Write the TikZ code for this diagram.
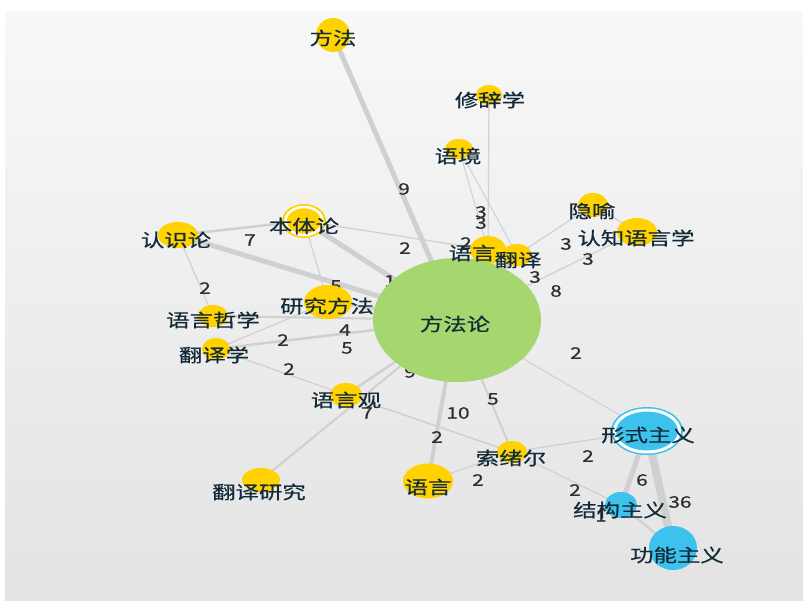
\documentclass[tikz,border=0pt]{standalone}
\usepackage{fontspec}
\newfontfamily\cjk[FakeStretch=1.3,FakeBold=0.6]{Noto Sans CJK SC}
\usetikzlibrary{shapes.geometric}
\pgfdeclarelayer{back}
\pgfdeclarelayer{edges}
\pgfsetlayers{back,edges,main}
\definecolor{yel}{HTML}{FFD200}
\definecolor{blu}{HTML}{3DC2EE}
\definecolor{grn}{HTML}{A5D66F}
\definecolor{txt}{HTML}{132B38}
\definecolor{numc}{HTML}{2E2E2E}
\definecolor{edg}{HTML}{D0D0D0}
\definecolor{bgtop}{HTML}{F8F8F8}
\definecolor{bgbot}{HTML}{E3E3E3}
\tikzset{
  dot/.style={ellipse, inner sep=0pt, draw=none},
  ydot/.style={dot, fill=yel},
  bdot/.style={dot, fill=blu},
  lbl/.style={font=\cjk\fontsize{18}{18}\selectfont, text=txt, inner sep=0pt},
  num/.style={font=\cjk\fontsize{16}{16}\selectfont, text=numc, inner sep=0pt},
  link/.style={draw=edg, line cap=round},
  ring/.style={ellipse, draw=white, line width=3pt, inner sep=0pt, fill=none}
}
\begin{document}
\begin{tikzpicture}[x=1pt,y=-1pt]
\useasboundingbox (0,0) rectangle (803,601);
\begin{pgfonlayer}{back}
\fill[white] (0,0) rectangle (803,601);
\shade[top color=bgtop, bottom color=bgbot] (5,12) rectangle (803,601);
\end{pgfonlayer}
% nodes
\node[ydot, minimum width=34pt, minimum height=34pt] (fa) at (333,35) {};
\node[ydot, minimum width=26pt, minimum height=20pt] (xc) at (489,95) {};
\node[ydot, minimum width=28pt, minimum height=20pt] (yj) at (459,149) {};
\node[ydot, minimum width=30pt, minimum height=24pt] (yy) at (593,205) {};
\node[ydot, minimum width=40pt, minimum height=28pt] (rz) at (637,232) {};
\node[ydot, minimum width=36pt, minimum height=28pt] (yu) at (488,250) {};
\node[ydot, minimum width=30pt, minimum height=22pt] (fy) at (517,255) {};
\node[ydot, minimum width=44pt, minimum height=34pt] (bt) at (304,221) {};
\node[ring, minimum width=37pt, minimum height=28pt, line width=2.5pt] (btr) at (304,221) {};
\node[ydot, minimum width=40pt, minimum height=26pt] (rs) at (178,235) {};
\node[ydot, minimum width=48pt, minimum height=34pt] (yf) at (328,302) {};
\node[ydot, minimum width=30pt, minimum height=22pt] (zx) at (213,316) {};
\node[ydot, minimum width=28pt, minimum height=22pt] (fx) at (216,349) {};
\node[ydot, minimum width=32pt, minimum height=24pt] (yg) at (346,395) {};
\node[ydot, minimum width=50pt, minimum height=35pt] (yb) at (428,481) {};
\node[ydot, minimum width=30pt, minimum height=22pt] (sx) at (512,452) {};
\node[ydot, minimum width=38pt, minimum height=24pt] (fyj) at (261,480) {};
\node[bdot, minimum width=72pt, minimum height=48pt] (xs) at (647,431) {};
\node[ring, minimum width=65pt, minimum height=42pt] (xsr) at (647,431) {};
\node[bdot, minimum width=32pt, minimum height=26pt] (jg) at (621,505) {};
\node[bdot, minimum width=48pt, minimum height=44pt] (gn) at (673,548) {};
\node[dot, fill=grn, minimum width=168pt, minimum height=124pt] (ff) at (457,320) {};
% labels
\node[lbl] (tfa) at (333,38) {方法};
\node[lbl] (txc) at (490,100) {修辞学};
\node[lbl] (tyj) at (458,156) {语境};
\node[lbl] (tyy) at (592,211) {隐喻};
\node[lbl] (trz) at (636,238) {认知语言学};
\node[lbl] (tyu) at (472,253) {语言};
\node[lbl] (tfy) at (518,260) {翻译};
\node[lbl] (tbt) at (304,226) {本体论};
\node[lbl] (trs) at (176,240) {认识论};
\node[lbl] (tyf) at (327,306) {研究方法};
\node[lbl] (tzx) at (213,320) {语言哲学};
\node[lbl] (tfx) at (214,355) {翻译学};
\node[lbl] (tyg) at (346,400) {语言观};
\node[lbl] (tyb) at (428,487) {语言};
\node[lbl] (tsx) at (511,458) {索绪尔};
\node[lbl] (tfyj) at (259,492) {翻译研究};
\node[lbl] (txs) at (648,435) {形式主义};
\node[lbl] (tjg) at (620,510) {结构主义};
\node[lbl] (tgn) at (677,555) {功能主义};
\node[lbl] (tff) at (455,324) {方法论};
% edges
\begin{pgfonlayer}{edges}
\draw[link, line width=5pt] (fa.center) -- (ff.center);
\draw[link, line width=1.2pt] (xc.center) -- (yu.center);
\draw[link, line width=1pt] (yj.center) -- (yu.center);
\draw[link, line width=1pt] (yj.center) -- (fy.center);
\draw[link, line width=5pt] (bt.center) -- (ff.center);
\draw[link, line width=1.2pt] (bt.center) -- (yu.center);
\draw[link, line width=2.5pt] (rs.center) -- (bt.center);
\draw[link, line width=5pt] (rs.center) -- (ff.center);
\draw[link, line width=1.2pt] (rs.center) -- (zx.center);
\draw[link, line width=1.2pt] (bt.center) -- (yf.center);
\draw[link, line width=3pt] (yf.center) -- (ff.center);
\draw[link, line width=2pt] (zx.center) -- (ff.center);
\draw[link, line width=2.5pt] (fx.center) -- (ff.center);
\draw[link, line width=1.2pt] (fx.center) -- (yf.center);
\draw[link, line width=1.2pt] (fx.center) -- (yg.center);
\draw[link, line width=2.5pt] (yg.center) -- (ff.center);
\draw[link, line width=2pt] (fyj.center) -- (ff.center);
\draw[link, line width=1.5pt] (yg.center) -- (sx.center);
\draw[link, line width=4pt] (yb.center) -- (ff.center);
\draw[link, line width=2pt] (sx.center) -- (ff.center);
\draw[link, line width=1.2pt] (sx.center) -- (yb.center);
\draw[link, line width=1.2pt] (sx.center) -- (xs.center);
\draw[link, line width=1.2pt] (sx.center) -- (jg.center);
\draw[link, line width=1pt] (ff.center) -- (xs.center);
\draw[link, line width=5pt] (xs.center) -- (jg.center);
\draw[link, line width=8pt] (xs.center) -- (gn.center);
\draw[link, line width=2pt] (jg.center) -- (gn.center);
\draw[link, line width=1.2pt] (fy.center) -- (yy.center);
\draw[link, line width=1.2pt] (ff.center) -- (rz.center);
\draw[link, line width=1.2pt] (yy.center) -- (rz.center);
\draw[link, line width=2pt] (fy.center) -- (ff.center);
\draw[link, line width=2pt] (yu.center) -- (ff.center);
% edge labels
\node[num] (n1) at (404,189) {9};
\node[num] (n2) at (481,212) {3};
\node[num] (n3) at (481,223) {3};
\node[num] (n4) at (405,248) {2};
\node[num] (n5) at (250,240) {7};
\node[num] (n6) at (390,281) {1};
\node[num] (n7) at (336,286) {5};
\node[num] (n8) at (205,288) {2};
\node[num] (n9) at (283,340) {2};
\node[num] (n10) at (345,330) {4};
\node[num] (n11) at (347,348) {5};
\node[num] (n12) at (289,369) {2};
\node[num] (n13) at (410,372) {9};
\node[num] (n14) at (367,413) {7};
\node[num] (n15) at (458,413) {10};
\node[num] (n16) at (437,437) {2};
\node[num] (n17) at (493,399) {5};
\node[num] (n18) at (478,480) {2};
\node[num] (n19) at (588,456) {2};
\node[num] (n20) at (575,490) {2};
\node[num] (n21) at (576,353) {2};
\node[num] (n22) at (642,480) {6};
\node[num] (n23) at (680,502) {36};
\node[num] (n24) at (601,516) {1};
\node[num] (n25) at (566,244) {3};
\node[num] (n26) at (588,259) {3};
\node[num] (n27) at (535,277) {3};
\node[num] (n28) at (556,291) {8};
\node[num] (n29) at (466,243) {2};
\end{pgfonlayer}
\end{tikzpicture}
\end{document}
